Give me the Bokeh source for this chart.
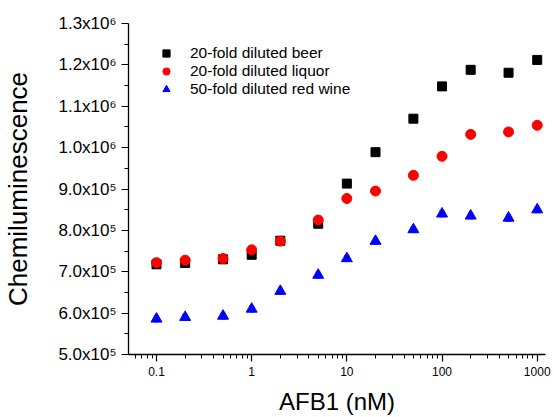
from bokeh.plotting import figure
from bokeh.models import FixedTicker, Whisker, ColumnDataSource, Range1d, TeeHead
from bokeh.embed import file_html
from bokeh.resources import INLINE

# ---- data ----
conc = [0.1, 0.2, 0.5, 1, 2, 5, 10, 20, 50, 100, 200, 500, 1000]
beer = [7.18e5, 7.21e5, 7.30e5, 7.41e5, 7.75e5, 8.16e5, 9.13e5, 9.89e5,
        1.070e6, 1.148e6, 1.188e6, 1.181e6, 1.212e6]
beer_err = [3e3, 3e3, 3e3, 4e3, 3e3, 4e3, 3e3, 3e3, 3e3, 3e3, 3e3, 3e3, 3e3]
liquor = [7.22e5, 7.28e5, 7.32e5, 7.53e5, 7.74e5, 8.25e5, 8.77e5, 8.95e5,
          9.33e5, 9.79e5, 1.032e6, 1.038e6, 1.054e6]
liquor_err = [4e3, 4e3, 4e3, 6e3, 5e3, 5e3, 4e3, 4e3, 4e3, 4e3, 4e3, 5e3, 9e3]
wine = [5.86e5, 5.90e5, 5.93e5, 6.10e5, 6.53e5, 6.92e5, 7.32e5, 7.74e5,
        8.02e5, 8.40e5, 8.35e5, 8.30e5, 8.50e5]
wine_err = [7e3, 7e3, 7e3, 7e3, 7e3, 7e3, 7e3, 7e3, 7e3, 7e3, 7e3, 8e3, 7e3]

series_names = ["20-fold diluted beer", "20-fold diluted liquor", "50-fold diluted red wine"]

x_ticks = [0.1, 1, 10, 100, 1000]
x_tick_labels = ["0.1", "1", "10", "100", "1000"]
y_ticks = [5e5, 6e5, 7e5, 8e5, 9e5, 1.0e6, 1.1e6, 1.2e6, 1.3e6]
y_tick_labels = ["5.0x10\u2075", "6.0x10\u2075", "7.0x10\u2075", "8.0x10\u2075", "9.0x10\u2075",
                 "1.0x10\u2076", "1.1x10\u2076", "1.2x10\u2076", "1.3x10\u2076"]

FONT = "Liberation Sans"

p = figure(width=554, height=417, x_axis_type="log",
           x_range=Range1d(0.0508, 1222), y_range=Range1d(5e5, 1.3e6),
           output_backend="svg", toolbar_location=None,
           min_border_left=128, min_border_right=9, min_border_top=23, min_border_bottom=59)
p.outline_line_color = None
p.grid.visible = False
p.background_fill_color = "white"
p.border_fill_color = "white"

# error bars
for vals, errs, col in [(beer, beer_err, "black"), (liquor, liquor_err, "red"), (wine, wine_err, "blue")]:
    src = ColumnDataSource(dict(x=conc, upper=[v + e for v, e in zip(vals, errs)],
                                lower=[v - e for v, e in zip(vals, errs)]))
    w = Whisker(base="x", upper="upper", lower="lower", source=src, dimension="height",
                line_color=col, line_width=1,
                upper_head=TeeHead(size=5, line_color=col, line_width=1),
                lower_head=TeeHead(size=5, line_color=col, line_width=1))
    p.add_layout(w)

p.scatter(conc, beer, marker="square", size=9, color="black", legend_label=series_names[0])
p.scatter(conc, liquor, marker="circle", size=10, color="red", legend_label=series_names[1])
p.scatter(conc, wine, marker="triangle", size=11, color="blue", legend_label=series_names[2])

# axes
for ax in (p.xaxis[0], p.yaxis[0]):
    ax.axis_line_color = "black"
    ax.axis_line_width = 1.3
    ax.major_tick_line_color = "black"
    ax.minor_tick_line_color = "black"
    ax.major_tick_line_width = 1.2
    ax.minor_tick_line_width = 1.0
    ax.major_tick_in = 0
    ax.major_tick_out = 7
    ax.minor_tick_in = 0
    ax.minor_tick_out = 4
    ax.major_label_text_font = FONT
    ax.axis_label_text_font = FONT
    ax.axis_label_text_font_style = "normal"
    ax.major_label_text_color = "black"
    ax.axis_label_text_color = "black"

x_minor = [m * d for d in [0.01, 0.1, 1, 10, 100, 1000] for m in range(2, 10)]
p.xaxis.ticker = FixedTicker(ticks=x_ticks, minor_ticks=x_minor)
p.xaxis.major_label_overrides = {t: l for t, l in zip(x_ticks, x_tick_labels)}
p.xaxis.major_label_text_font_size = "12px"
p.xaxis.major_label_standoff = 5
p.xaxis.axis_label = "AFB1 (nM)"
p.xaxis.axis_label_text_font_size = "24px"
p.xaxis.axis_label_standoff = 9

y_minor = [(a + b) / 2 for a, b in zip(y_ticks[:-1], y_ticks[1:])]
p.yaxis.ticker = FixedTicker(ticks=y_ticks, minor_ticks=y_minor)
p.yaxis.major_label_overrides = {t: l for t, l in zip(y_ticks, y_tick_labels)}
p.yaxis.major_label_text_font_size = "17px"
p.yaxis.major_label_standoff = 5
p.yaxis.axis_label = "Chemiluminescence"
p.yaxis.axis_label_text_font_size = "26px"
p.yaxis.axis_label_standoff = 22

# legend
lg = p.legend[0]
lg.location = "top_left"
lg.margin = 21
lg.padding = 10
lg.glyph_width = 34
lg.glyph_height = 18
lg.label_height = 18
lg.label_standoff = 7
lg.spacing = 0
lg.label_text_font = FONT
lg.label_text_font_size = "15.5px"
lg.label_text_color = "black"
lg.border_line_color = None
lg.background_fill_alpha = 0

open("out.html", "w").write(file_html(p, INLINE))
